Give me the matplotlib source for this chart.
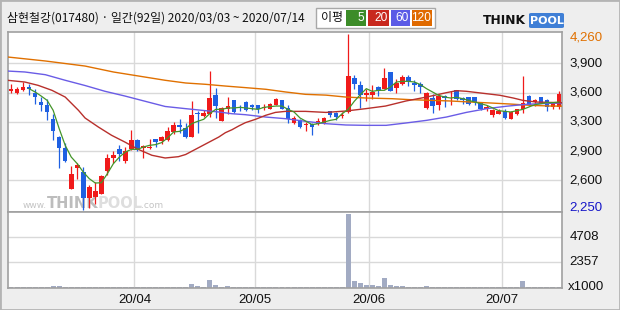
import matplotlib
matplotlib.use('Agg')
import matplotlib.pyplot as plt
from matplotlib.patches import Rectangle, FancyBboxPatch
import numpy as np

plt.rcParams['font.family'] = ['Noto Sans CJK KR', 'DejaVu Sans']

# ---------------- data ----------------
opens = [3603, 3588, 3622, 3653, 3588, 3481, 3443, 3283, 3077, 2951,
         2489, 2725, 2679, 2380, 2393, 2431, 2687, 2840, 2939, 2802,
         2947, 3050, 2958, 2958, 3054, 3038, 3042, 3138, 3214, 3183,
         3084, 3359, 3321, 3348, 3565, 3267, 3397, 3504, 3428, 3481,
         3443, 3443, 3413, 3405, 3451, 3504, 3413, 3245, 3271, 3214,
         3229, 3229, 3237, 3374, 3351, 3321, 3367, 3756, 3672, 3565,
         3558, 3653, 3634, 3825, 3645, 3691, 3768, 3703, 3691, 3413,
         3527, 3451, 3550, 3569, 3615, 3527, 3535, 3535, 3474, 3405,
         3336, 3348, 3374, 3290, 3344, 3397, 3550, 3481, 3538, 3504,
         3428, 3420]
highs = [3691, 3649, 3710, 3691, 3634, 3538, 3519, 3348, 3093, 3009,
         2748, 2786, 2737, 2530, 2565, 2641, 2889, 2916, 2985, 2966,
         3157, 3061, 2993, 3061, 3061, 3092, 3195, 3252, 3283, 3245,
         3493, 3374, 3386, 3832, 3642, 3424, 3539, 3508, 3451, 3489,
         3462, 3451, 3462, 3466, 3523, 3508, 3451, 3321, 3283, 3252,
         3245, 3298, 3309, 3382, 3367, 3367, 4260, 3787, 3718, 3626,
         3680, 3661, 3871, 3829, 3741, 3794, 3787, 3729, 3710, 3596,
         3577, 3577, 3558, 3603, 3622, 3538, 3538, 3542, 3481, 3451,
         3405, 3397, 3397, 3374, 3405, 3779, 3558, 3519, 3542, 3512,
         3481, 3603]
lows = [3588, 3573, 3603, 3558, 3462, 3378, 3279, 3050, 2722, 2799,
        2489, 2603, 2250, 2270, 2317, 2424, 2649, 2786, 2802, 2786,
        2928, 2920, 2844, 2947, 2966, 3004, 3031, 3118, 3130, 3069,
        3077, 3130, 3313, 3309, 3298, 3260, 3344, 3359, 3374, 3374,
        3386, 3359, 3386, 3397, 3443, 3397, 3245, 3229, 3183, 3149,
        3099, 3222, 3229, 3309, 3271, 3298, 3359, 3626, 3412, 3497,
        3512, 3550, 3626, 3603, 3588, 3680, 3664, 3607, 3588, 3397,
        3359, 3393, 3424, 3451, 3500, 3462, 3451, 3451, 3386, 3374,
        3309, 3340, 3290, 3283, 3336, 3359, 3435, 3435, 3466, 3382,
        3405, 3397]
closes = [3626, 3630, 3653, 3634, 3535, 3451, 3367, 3153, 2951, 2810,
          2657, 2756, 2382, 2512, 2458, 2630, 2840, 2870, 2889, 2916,
          3042, 2928, 2977, 2970, 3023, 3084, 3149, 3214, 3195, 3077,
          3329, 3348, 3359, 3527, 3435, 3413, 3435, 3367, 3413, 3386,
          3428, 3405, 3424, 3458, 3512, 3405, 3283, 3298, 3195, 3225,
          3199, 3260, 3298, 3336, 3313, 3336, 3779, 3691, 3558, 3580,
          3596, 3607, 3756, 3607, 3699, 3768, 3722, 3680, 3653, 3584,
          3435, 3550, 3531, 3577, 3519, 3504, 3462, 3481, 3397, 3420,
          3390, 3378, 3298, 3367, 3397, 3474, 3451, 3504, 3474, 3428,
          3458, 3573]
volumes = [80, 80, 80, 80, 80, 80, 80, 160, 160, 80,
           80, 80, 80, 80, 80, 80, 80, 80, 80, 80,
           80, 80, 80, 80, 80, 80, 80, 80, 80, 80,
           350, 160, 80, 720, 250, 80, 160, 80, 80, 80,
           80, 80, 80, 80, 80, 80, 80, 80, 80, 80,
           80, 80, 80, 80, 80, 80, 6900, 630, 440, 250,
           250, 160, 910, 250, 160, 160, 80, 80, 80, 160,
           80, 80, 80, 80, 80, 80, 80, 80, 80, 80,
           80, 80, 80, 80, 80, 630, 80, 80, 80, 80,
           80, 80]

ma5_day = list(range(3, 92))
ma5_val = [3634, 3596, 3550, 3500, 3386, 3176, 2985, 2851, 2775, 2679,
           2603, 2553, 2557, 2660, 2775, 2851, 2909, 2939, 2939, 2966,
           2985, 2993, 3016, 3069, 3138, 3145, 3176, 3233, 3260, 3283,
           3348, 3397, 3397, 3413, 3413, 3420, 3413, 3405, 3397, 3420,
           3428, 3435, 3435, 3397, 3367, 3298, 3260, 3222, 3233, 3252,
           3271, 3283, 3348, 3397, 3489, 3565, 3634, 3603, 3615, 3615,
           3653, 3710, 3718, 3718, 3710, 3680, 3634, 3596, 3558, 3538,
           3527, 3535, 3519, 3500, 3481, 3462, 3443, 3413, 3382, 3374,
           3367, 3382, 3397, 3424, 3451, 3462, 3474, 3474, 3481]

ma20_day = [-0.6, 2.3, 4.5, 6.8, 9, 11.2, 12.3, 14.5, 16.7, 18.9, 21.1, 23.4,
            25.6, 27.8, 29, 30.1, 31.2, 32.3, 33.4, 34.5, 35.6, 36.7, 37.8,
            38.9, 40.6, 42.3, 43.9, 45.6, 48.9, 52.3, 55.6, 58.9, 62.2, 65.6,
            69, 72.3, 74, 75.6, 79, 81.2, 83.4, 85, 87.2, 91.4]
ma20_val = [3730, 3710, 3672, 3615, 3538, 3386, 3298, 3195, 3100, 3023, 2940,
            2871, 2840, 2855, 2880, 2920, 2960, 3000, 3040, 3080, 3130, 3164,
            3206, 3244, 3283, 3329, 3362, 3374, 3374, 3362, 3378, 3405, 3435,
            3493, 3538, 3588, 3611, 3604, 3576, 3558, 3527, 3500, 3481, 3473]

ma60_day = [-0.6, 2.3, 5.7, 9, 12.3, 15.6, 18.9, 22.3, 25.6, 29, 32.3, 34.5,
            36.7, 38.9, 42.3, 45.6, 48.9, 52.3, 55.6, 58.9, 62.3, 65.6, 69,
            72.3, 75.6, 79, 82.3, 85.6, 89, 91.4]
ma60_val = [3836, 3825, 3794, 3730, 3670, 3604, 3550, 3489, 3430, 3405, 3382,
            3367, 3347, 3336, 3309, 3290, 3260, 3233, 3218, 3214, 3214, 3241,
            3271, 3309, 3362, 3405, 3433, 3455, 3465, 3468]

ma120_day = [-0.6, 5.7, 12.3, 17, 25.6, 29, 32.3, 35.6, 38.9, 42.3, 45.6, 48.9,
             52.3, 55.6, 58.9, 63.3, 66.3, 72.9, 76.3, 79.6, 82.9, 86.3, 89.6,
             91.4]
ma120_val = [3997, 3951, 3893, 3825, 3730, 3699, 3684, 3664, 3646, 3627, 3596,
             3569, 3560, 3538, 3527, 3519, 3508, 3493, 3481, 3470, 3458, 3443,
             3435, 3434]

price_ticks = [4260, 3925, 3590, 3255, 2920, 2585, 2250]
price_labels = ['4,260', '3,900', '3,600', '3,300', '2,900', '2,600', '2,250']
vol_ticks = [4708, 2357]
vol_labels = ['4708', '2357']
month_first_day = [21, 41, 60, 82]
month_labels = ['20/04', '20/05', '20/06', '20/07']

title = '삼현철강(017480) · 일간(92일) 2020/03/03 ~ 2020/07/14'
legend_items = [('5', '#3c8c28'), ('20', '#c8281e'), ('60', '#5b5be6'), ('120', '#e06a00')]

# ---------------- figure ----------------
W, H = 620, 310
fig = plt.figure(figsize=(6.2, 3.1), dpi=100, facecolor='#eeeeee')
fig.patches.append(Rectangle((0, 0), 1, 1, transform=fig.transFigure, fill=False,
                             edgecolor='#b4b4b4', linewidth=2))

def fx(px):
    return px / W

def fy(py):
    return 1 - py / H

L, R = 8, 562
PT, PB = 32, 212.3
VB = 287.5
ax = fig.add_axes([fx(L), fy(PB), fx(R - L), (PB - PT) / H])
axv = fig.add_axes([fx(L), fy(VB), fx(R - L), (VB - PB) / H])

UP, DOWN = '#f01a1a', '#1f60e2'
grid_c = '#d9d9d9'
spine_c = '#a0a0a0'

for a in (ax, axv):
    a.set_facecolor('white')
    a.set_xlim(-0.5, 91.5)
    a.set_xticks([])
    a.set_yticks([])
    for s in a.spines.values():
        s.set_color(spine_c)
        s.set_linewidth(1.2)
    for d in month_first_day:
        a.axvline(d - 0.5, color=grid_c, lw=1.0, zorder=0.5)

PY0, PY1 = 2218, 4283
ax.set_ylim(PY0, PY1)
per_px = (PY1 - PY0) / (PB - PT)
for v in price_ticks[1:-1]:
    ax.axhline(v, color=grid_c, lw=1.0, zorder=0.5)

x = np.arange(len(closes))
o = np.array(opens); c = np.array(closes); h = np.array(highs); lo = np.array(lows)
cols = [UP if cc >= oo else DOWN for oo, cc in zip(o, c)]
ax.vlines(x, lo, h, colors=cols, lw=0.9, zorder=2)
body_bot = np.minimum(o, c)
body_h = np.maximum(np.abs(c - o), 9)
ax.bar(x, body_h, bottom=body_bot, width=0.76, color=cols, linewidth=0, zorder=2.5)

ax.plot(ma120_day, ma120_val, color='#e07000', lw=1.0, zorder=3)
ax.plot(ma60_day, ma60_val, color='#6a5ce6', lw=1.0, zorder=3)
ax.plot(ma20_day, ma20_val, color='#b8302c', lw=1.0, zorder=3)
ax.plot(ma5_day, ma5_val, color='#44952a', lw=0.9, zorder=3)

# price labels on the right (top/bottom labels nudged inside the panel)
ytr = ax.get_yaxis_transform()
lab_cols = ['#e07000'] + ['#111111'] * 5 + ['#1515c8']
lab_shift_px = [-3.5] + [0] * 5 + [2.5]
for v, t, lc, sp in zip(price_ticks, price_labels, lab_cols, lab_shift_px):
    ax.text(1.014, v + sp * per_px, t, transform=ytr, ha='left', va='center',
            fontsize=9.5, color=lc, family=['Liberation Sans', 'DejaVu Sans'])

# watermark
wm_kw = dict(transform=fig.transFigure, zorder=1, va='baseline', family='DejaVu Sans')
ax.text(fx(23), fy(208), 'www.', fontsize=6.5, color='#c4c4c4', **wm_kw)
ax.text(fx(47), fy(208), 'THINK', fontsize=10.5, fontweight='bold', color='#bdbdbd', **wm_kw)
ax.text(fx(98), fy(208), 'POOL', fontsize=10.5, fontweight='bold', color='#dedede', **wm_kw)
ax.text(fx(141), fy(208), '.com', fontsize=6.5, color='#c4c4c4', **wm_kw)

# volume
axv.set_ylim(0, 7080)
for v in vol_ticks:
    axv.axhline(v, color=grid_c, lw=1.0, zorder=0.5)
axv.bar(x, volumes, width=0.82, color='#a2abc3', linewidth=0, zorder=2)
vtr = axv.get_yaxis_transform()
for v, t in zip(vol_ticks, vol_labels):
    axv.text(1.014, v, t, transform=vtr, ha='left', va='center', fontsize=9.5,
             color='#111111', family=['Liberation Sans', 'DejaVu Sans'])
axv.text(1.010, 0, 'x1000', transform=vtr, ha='left', va='center', fontsize=9.5,
         color='#111111', family=['Liberation Sans', 'DejaVu Sans'])
xtr = axv.get_xaxis_transform()
for d, t in zip(month_first_day, month_labels):
    axv.text(d - 0.5, -0.165, t, transform=xtr, ha='center', va='center', fontsize=9.5,
             color='#111111', family=['Liberation Sans', 'DejaVu Sans'])

# title
fig.text(fx(7), fy(18), title, ha='left', va='center', fontsize=8.6, color='#111111')

# legend box
fig.patches.append(Rectangle((fx(316), fy(28)), fx(119), 20 / H, transform=fig.transFigure,
                             facecolor='white', edgecolor='#a8a8a8', linewidth=1))
fig.text(fx(332), fy(18), '이평', ha='center', va='center', fontsize=8.6, color='#111111')
box_x = [346, 368, 391, 412]
box_w = [20, 21, 19, 20]
for (t, col), bx, bw in zip(legend_items, box_x, box_w):
    fig.patches.append(Rectangle((fx(bx), fy(26)), fx(bw), 16 / H, transform=fig.transFigure,
                                 facecolor=col, edgecolor='none'))
    fig.text(fx(bx + bw - 1.5), fy(18), t, ha='right', va='center', fontsize=8.6,
             color='white', family=['Liberation Sans', 'DejaVu Sans'])

# ThinkPool logo
fig.patches.append(FancyBboxPatch((fx(529), fy(28)), fx(35), 15 / H, transform=fig.transFigure,
                                  boxstyle='round,pad=0,rounding_size=0.004',
                                  facecolor='#3f7fd6', edgecolor='none'))
fig.text(fx(483), fy(21), 'THINK', ha='left', va='center', fontsize=8.8, fontweight='bold',
         color='#111111', family='DejaVu Sans')
fig.text(fx(546.5), fy(21), 'POOL', ha='center', va='center', fontsize=8.0, fontweight='bold',
         color='white', family='DejaVu Sans')

fig.savefig('out.png', dpi=100, facecolor=fig.get_facecolor())
